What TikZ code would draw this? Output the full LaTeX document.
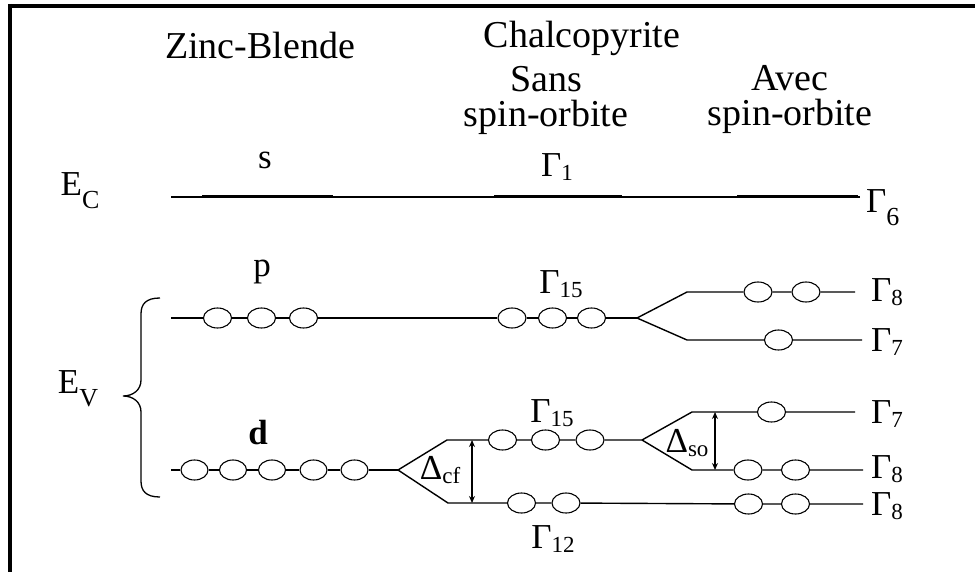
\documentclass[tikz,border=0pt]{standalone}
\usepackage{fontspec}
\setmainfont{Liberation Serif}
\usetikzlibrary{shapes.geometric,arrows.meta}
\newcommand\lsub[1]{\raisebox{-0.12em}{\fontsize{23}{23}\selectfont #1}}
\newcommand\esub[1]{\raisebox{-0.38em}{\fontsize{26}{26}\selectfont #1}}
\tikzset{
  lvl/.style={line width=1.4pt},
  bold level/.style={line width=3pt},
  orb/.style={ellipse,draw,line width=1.1pt,minimum width=28pt,minimum height=20pt,inner sep=0pt},
  lbl/.style={font=\fontsize{35}{36}\selectfont,inner sep=0pt},
  head/.style={font=\fontsize{38}{35}\selectfont,inner sep=0pt,align=center},
  gap/.style={{Stealth[length=7pt,width=6pt]}-{Stealth[length=7pt,width=6pt]},line width=1.4pt},
  frame/.style={line width=4.5pt}
}
\begin{document}
\begin{tikzpicture}[x=1pt,y=-1pt]
\useasboundingbox (0,0) rectangle (975,572);
\fill[white] (0,0) rectangle (975,572);
% frame
\coordinate (fTL) at (8,6);
\coordinate (fTR) at (975,6);
\coordinate (fL) at (10,4);
\coordinate (fB) at (10,572);
\draw[frame] (fTL) -- (fTR);
\draw[frame] (fL) -- (fB);

% headings
\node[head] (zb) at (260,46) {Zinc-Blende};
\node[head] (chal) at (582,38) {Chalcopyrite};
\node[head] (sans) at (546,100) {Sans\\spin-orbite};
\node[head] (avec) at (790,100) {Avec\\spin-orbite};

% conduction band
\node[lbl] (ec) at (80,191) {E\esub{C}};
\node[lbl] (s) at (265,160) {s};
\node[lbl] (g1) at (557,167) {Γ\lsub{1}};
\coordinate (ecL) at (171,197);
\coordinate (ecR) at (860,197);
\draw[lvl] (ecL) -- (ecR);
\coordinate (b1a) at (202,197); \coordinate (b1b) at (333,197);
\coordinate (b2a) at (494,197); \coordinate (b2b) at (622,197);
\coordinate (b3a) at (737,197); \coordinate (b3b) at (858,197);
\draw[bold level] (b1a) -- (b1b);
\draw[bold level] (b2a) -- (b2b);
\draw[bold level] (b3a) -- (b3b);
\node[lbl,anchor=west] (g6) at (866,208) {Γ\esub{6}};

% valence band label and brace
\node[lbl] (ev) at (78,389) {E\esub{V}};
\coordinate (brT) at (160,298);
\coordinate (brM) at (123,396);
\coordinate (brB) at (160,497);
\draw[line width=1.3pt] (brT) .. controls (146,298) and (141,304) .. (141,314)
  -- (141,380) .. controls (141,390) and (133,396) .. (brM)
  .. controls (133,396) and (141,402) .. (141,412)
  -- (141,481) .. controls (141,491) and (146,497) .. (brB);

% p level
\node[lbl] (p) at (262,272) {p};
\coordinate (pL) at (171,318);
\node[orb] (p1) at (217.5,318) {};
\node[orb] (p2) at (261.5,318) {};
\node[orb] (p3) at (303.5,318) {};
\node[orb] (q1) at (512,318) {};
\node[orb] (q2) at (552.5,318) {};
\node[orb] (q3) at (591.5,318) {};
\node[lbl] (g15a) at (561,284) {Γ\lsub{15}};
\coordinate (sp1) at (637,318);
\draw[lvl] (pL) -- (p1) -- (p2) -- (p3) -- (q1) -- (q2) -- (q3) -- (sp1);
\coordinate (sp1u) at (687,292);
\coordinate (sp1l) at (687,340);
\node[orb] (u1) at (758,292) {};
\node[orb] (u2) at (806,292) {};
\coordinate (uR) at (855,292);
\node[orb] (l1) at (778.5,340) {};
\coordinate (lR) at (862,340);
\draw[lvl] (sp1) -- (sp1u) -- (u1) -- (u2) -- (uR);
\draw[lvl] (sp1) -- (sp1l) -- (l1) -- (lR);
\node[lbl,anchor=west] (g8a) at (871,292) {Γ\lsub{8}};
\node[lbl,anchor=west] (g7a) at (871,342) {Γ\lsub{7}};

% d level
\node[lbl,font=\fontsize{35}{36}\selectfont\bfseries] (d) at (258,433) {d};
\coordinate (dL) at (171,470);
\node[orb,minimum width=27pt] (d1) at (194.5,470) {};
\node[orb,minimum width=27pt] (d2) at (233,470) {};
\node[orb,minimum width=27pt] (d3) at (272,470) {};
\node[orb,minimum width=27pt] (d4) at (313.5,470) {};
\node[orb,minimum width=27pt] (d5) at (354.5,470) {};
\coordinate (sp2) at (398,470);
\draw[lvl] (dL) -- (d1) -- (d2) -- (d3) -- (d4) -- (d5) -- (sp2);
\coordinate (sp2u) at (447,440);
\coordinate (sp2l) at (448,503);
\node[orb] (e1) at (502.5,440) {};
\node[orb] (e2) at (545.5,440) {};
\node[orb] (e3) at (590,440) {};
\coordinate (sp3) at (642,440);
\draw[lvl] (sp2) -- (sp2u) -- (e1) -- (e2) -- (e3) -- (sp3);
\node[orb] (f1) at (521.5,503) {};
\node[orb] (f2) at (566,503) {};
\node[orb] (f3) at (748.5,504) {};
\node[orb] (f4) at (795.5,504) {};
\coordinate (fR) at (863,504);
\draw[lvl] (sp2) -- (sp2l) -- (f1) -- (f2) -- (f3) -- (f4) -- (fR);
\node[lbl] (g15b) at (552,413) {Γ\lsub{15}};
\node[lbl] (g12) at (553,539) {Γ\lsub{12}};
% crystal field gap
\coordinate (cfT) at (472,440);
\coordinate (cfB) at (472,503);
\draw[gap] (cfT) -- (cfB);
\node[lbl] (dcf) at (440,470) {Δ\lsub{cf}};
% spin-orbit split
\coordinate (sp3u) at (692,412);
\coordinate (sp3l) at (692,470);
\node[orb] (h1) at (771.5,412) {};
\coordinate (hR) at (855,412);
\node[orb] (k1) at (748,470) {};
\node[orb] (k2) at (795.5,470) {};
\coordinate (kR) at (863,470);
\draw[lvl] (sp3) -- (sp3u) -- (h1) -- (hR);
\draw[lvl] (sp3) -- (sp3l) -- (k1) -- (k2) -- (kR);
\coordinate (soT) at (715,412);
\coordinate (soB) at (715,470);
\draw[gap] (soT) -- (soB);
\node[lbl] (dso) at (687,443) {Δ\lsub{so}};
\node[lbl,anchor=west] (g7b) at (871,414) {Γ\lsub{7}};
\node[lbl,anchor=west] (g8b) at (871,469) {Γ\lsub{8}};
\node[lbl,anchor=west] (g8c) at (871,506) {Γ\lsub{8}};
\end{tikzpicture}
\end{document}
